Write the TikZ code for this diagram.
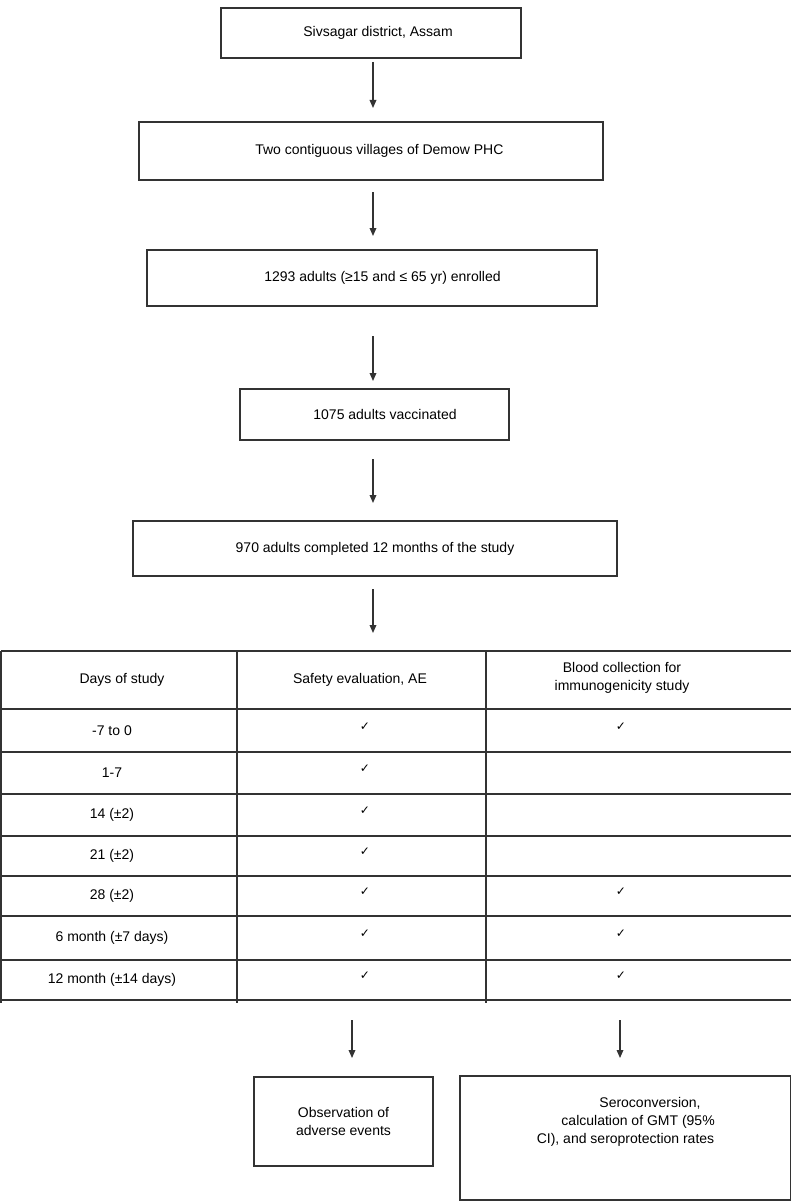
\documentclass[tikz,border=0pt]{standalone}
\usepackage{fontspec}
\setmainfont{Liberation Sans}
\newfontfamily\symfont{DejaVu Sans}
\usetikzlibrary{arrows.meta,positioning}
\newcommand{\tick}{{\symfont\fontsize{9}{10}\selectfont ✓}}

\begin{document}
\begin{tikzpicture}[
    x=0.75pt, y=-0.75pt,
    font=\fontsize{10.5}{13.5}\selectfont,
    line width=0.9pt, draw=black!80,
    step box/.style={rectangle,draw=black!80,line width=1.1pt,inner sep=0pt,align=center},
    flow arrow/.style={-{Triangle[length=6pt,width=5pt]},line width=0.9pt,draw=black!80},
    cell/.style={inner sep=0pt,align=center}
]
\useasboundingbox (0,0) rectangle (791,1202);

% Flow boxes
\node[step box, minimum width=225pt, minimum height=37.5pt] (district) at (371,33) {\hspace{1em}Sivsagar district, Assam};
\node[step box, minimum width=348pt, minimum height=43.5pt] (villages) at (371,151) {\hspace{1.2em}Two contiguous villages of Demow PHC};
\node[step box, minimum width=337.5pt, minimum height=42pt] (enrolled) at (372,278) {\hspace{1.5em}1293 adults (≥15 and ≤ 65 yr) enrolled};
\node[step box, minimum width=201.75pt, minimum height=38.25pt] (vaccinated) at (374.5,414.5) {\hspace{1.5em}1075 adults vaccinated};
\node[step box, minimum width=363pt, minimum height=41.25pt] (completed) at (375,548.5) {970 adults completed 12 months of the study};

% Arrows
\coordinate (a1) at (373,108);
\coordinate (a2) at (373,236);
\coordinate (a3) at (373,381);
\coordinate (a4) at (373,503);
\coordinate (tabletop) at (373,633);
\draw[flow arrow] (373,62) -- (a1);
\draw[flow arrow] (373,192) -- (a2);
\draw[flow arrow] (373,336) -- (a3);
\draw[flow arrow] (373,459) -- (a4);
\draw[flow arrow] (373,589) -- (tabletop);

% Table
\foreach \y in {651,709,752,794,836,876,916,960,1000}
    \draw[line width=0.8pt] (1,\y) -- (791,\y);
\draw[line width=0.8pt] (1,651) -- (1,1003);
\draw[line width=0.8pt] (237,651) -- (237,1003);
\draw[line width=0.8pt] (486,651) -- (486,1003);

\node[cell] (h1) at (122,680) {Days of study};
\node[cell] (h2) at (360,680) {Safety evaluation, AE};
\node[cell] (h3) at (622,678) {Blood collection for\\immunogenicity study};

\foreach \yy/\txt/\blood in {731/-7 to 0/1, 773/1-7/0, 815/14 (±2)/0, 856/21 (±2)/0,
    896/28 (±2)/1, 938/6 month (±7 days)/1, 980/12 month (±14 days)/1}{
    \node[cell] at (112,\yy) {\txt};
    \node[cell] at (365,\yy-4) {\tick};
    \ifnum\blood=1 \node[cell] at (621,\yy-4) {\tick};\fi
}

% Outcome boxes
\node[step box, minimum width=134.25pt, minimum height=66.75pt] (adverse) at (343.5,1121.5) {Observation of\\adverse events};
\node[step box, line width=2pt, minimum width=248.25pt, minimum height=93pt] (sero) at (625.5,1138) {\hspace{3.5em}Seroconversion,\\\hspace{1.8em}calculation of GMT (95\%\\CI), and seroprotection rates\\[1.2em]};
\coordinate (adv top) at (352,1058);
\coordinate (sero top) at (620,1058);
\draw[flow arrow] (352,1020) -- (adv top);
\draw[flow arrow] (620,1020) -- (sero top);
\end{tikzpicture}
\end{document}
